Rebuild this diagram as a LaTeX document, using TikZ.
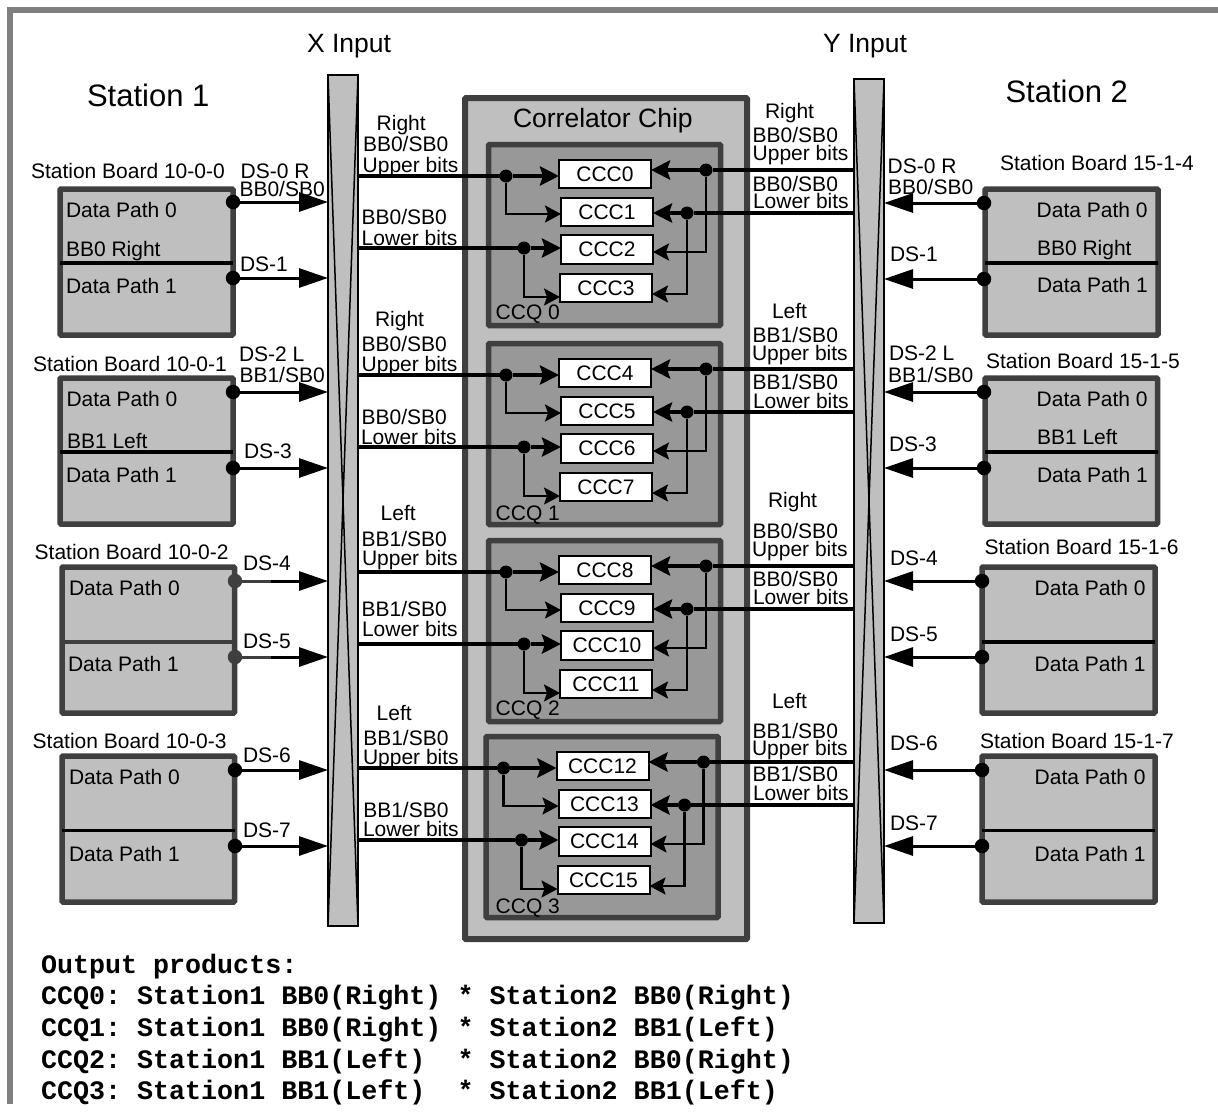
\documentclass[tikz,border=0pt]{standalone}
\usepackage{fontspec}
\usepackage{graphicx}
\setmainfont{Liberation Sans}
\setmonofont{Liberation Mono}
\frenchspacing
\usetikzlibrary{arrows.meta}
\definecolor{ink}{HTML}{3F3F3F}
\definecolor{pale}{HTML}{BFBFBF}
\definecolor{midg}{HTML}{989898}
\definecolor{framec}{HTML}{808080}
\newcount\lbc
\newcommand\lb[3]{\global\advance\lbc by 1\relax\node[lbl] (t\the\lbc) at (#1,#2) {#3};}
\newcommand\mono[2]{\global\advance\lbc by 1\relax\node[lbl,font=\ttfamily\bfseries\fontsize{26.7}{30}\selectfont] (t\the\lbc) at (41,#1) {#2};}
\newcommand\bx[6]{\node[#6,minimum width={(#4-#2)*1pt},minimum height={(#5-#3)*1pt}] (#1) at ({(#2+#4)/2},{(#3+#5)/2}) {};}
\newcommand\board[7]{\bx{#1}{#2}{#3}{#4}{#5}{boardbox}\coordinate (#1d) at (0,#6);\draw[divider,#7] (#1.west |- #1d) -- (#1.east |- #1d);}
\begin{document}
\begin{tikzpicture}[x=1pt,y=-1pt,
  lbl/.style={anchor=base west,inner sep=0pt,outer sep=0pt,font=\fontsize{21}{24}\selectfont,text=black},
  boardbox/.style={draw=ink,fill=pale,line width=5.5pt,rounded corners=1pt,inner sep=0pt,outer sep=0pt},
  chipbox/.style={draw=ink,fill=pale,line width=6pt,rounded corners=1pt,inner sep=0pt,outer sep=0pt},
  ccqbox/.style={draw=ink,fill=midg,line width=5.5pt,rounded corners=1pt,inner sep=0pt,outer sep=0pt},
  bar/.style={draw=black,fill=pale,line width=1.8pt,inner sep=0pt,outer sep=0pt},
  cccbox/.style={draw=black,fill=white,line width=2pt,inner sep=0pt,outer sep=0pt,font=\fontsize{21}{24}\selectfont},
  divider/.style={black,line width=3.2pt},
  bdot/.style={circle,fill=black,inner sep=0pt,outer sep=0pt,minimum size=14.5pt},
  cdot/.style={circle,fill=black,inner sep=0pt,outer sep=0pt,minimum size=13pt},
  bwire/.style={black,line width=3pt,-{Triangle[length=29pt,width=19pt]}},
  mwire/.style={black,line width=4pt,-{Stealth[length=19pt,width=19pt,inset=3pt]}},
  swire/.style={black,line width=2.4pt,-{Stealth[length=16pt,width=17pt,inset=3pt]}},
  hwire/.style={black,line width=4pt},
]
\useasboundingbox (0,0) rectangle (1218,1114);
% frame
\coordinate (fa) at (10,1104);
\coordinate (fb) at (10,10);
\coordinate (fc) at (1218,10);
\draw[framec,line width=6pt] (fa) -- (fb) -- (fc);
% chip and groups
\bx{chip}{465}{98}{747}{939}{chipbox}
\lb{513}{127}{\fontsize{26.5}{30}\selectfont Correlator Chip}
% input bars
\bx{xbar}{328}{75}{358}{926}{bar}
\bx{ybar}{854}{79}{884}{923}{bar}
\draw[black,line width=1.5pt] (xbar.north west) -- (xbar.south east);
\draw[black,line width=1.5pt] (xbar.north east) -- (xbar.south west);
\draw[black,line width=1.5pt] (ybar.north west) -- (ybar.south east);
\draw[black,line width=1.5pt] (ybar.north east) -- (ybar.south west);
% CCQ blocks
\foreach \q/\dx/\dy in {0/0/0,1/0/199,2/0/396,3/-2.5/592}{
  \pgfmathtruncatemacro\ca{4*\q}
  \pgfmathtruncatemacro\cb{4*\q+1}
  \pgfmathtruncatemacro\cc{4*\q+2}
  \pgfmathtruncatemacro\cd{4*\q+3}
  \pgfmathsetmacro\xl{488.5+\dx}\pgfmathsetmacro\xr{720.5+\dx}
  \pgfmathsetmacro\yt{144.5+\dy}\pgfmathsetmacro\yb{325.5+\dy}
  \bx{ccq\q}{\xl}{\yt}{\xr}{\yb}{ccqbox}
  \pgfmathsetmacro\xa{559+\dx}\pgfmathsetmacro\xb{651+\dx}
  \pgfmathsetmacro\xc{561+\dx}\pgfmathsetmacro\xd{653+\dx}
  \pgfmathsetmacro\xe{560+\dx}\pgfmathsetmacro\xf{652+\dx}
  \pgfmathsetmacro\ya{160+\dy}\pgfmathsetmacro\yab{188+\dy}
  \pgfmathsetmacro\ybb{198+\dy}\pgfmathsetmacro\ybc{226+\dy}
  \pgfmathsetmacro\yca{235+\dy}\pgfmathsetmacro\ycb{264+\dy}
  \pgfmathsetmacro\yda{274+\dy}\pgfmathsetmacro\ydb{302+\dy}
  \node[cccbox,minimum width=92pt,minimum height=28pt] (ccc\ca) at ({(\xa+\xb)/2},{(\ya+\yab)/2}) {CCC\ca};
  \node[cccbox,minimum width=92pt,minimum height=28pt] (ccc\cb) at ({(\xc+\xd)/2},{(\ybb+\ybc)/2}) {CCC\cb};
  \node[cccbox,minimum width=92pt,minimum height=29pt] (ccc\cc) at ({(\xc+\xd)/2},{(\yca+\ycb)/2}) {CCC\cc};
  \node[cccbox,minimum width=92pt,minimum height=28pt] (ccc\cd) at ({(\xe+\xf)/2},{(\yda+\ydb)/2}) {CCC\cd};
  % dots
  \node[cdot] (lu\q) at (506+\dx,176+\dy) {};
  \node[cdot] (ll\q) at (524+\dx,248+\dy) {};
  \node[cdot] (ru\q) at (706+\dx,170+\dy) {};
  \node[cdot] (rl\q) at (687+\dx,213+\dy) {};
  % branch levels
  \coordinate (by1\q) at (0,214+\dy);
  \coordinate (by3\q) at (0,297+\dy);
  \coordinate (by2\q) at (0,252+\dy);
  \coordinate (by4\q) at (0,294+\dy);
  % left wires
  \draw[hwire] (lu\q -| xbar.east) -- (lu\q);
  \draw[hwire] (ll\q -| xbar.east) -- (ll\q);
  \draw[mwire] (lu\q) -- (lu\q -| ccc\ca.west);
  \draw[mwire] (ll\q) -- (ll\q -| ccc\cc.west);
  \draw[swire] (lu\q) |- (ccc\cb.west |- by1\q);
  \draw[swire] (ll\q) |- (ccc\cd.west |- by3\q);
  % right wires
  \draw[hwire] (ru\q -| ybar.west) -- (ru\q);
  \draw[hwire] (rl\q -| ybar.west) -- (rl\q);
  \draw[mwire] (ru\q) -- (ru\q -| ccc\ca.east);
  \draw[mwire] (rl\q) -- (rl\q -| ccc\cb.east);
  \draw[swire] (ru\q) |- (ccc\cc.east |- by2\q);
  \draw[swire] (rl\q) |- (ccc\cd.east |- by4\q);
}
% boards left
\board{la}{60}{189}{233}{335}{263}{}
\board{lb}{60}{378}{233}{524}{452}{}
\board{lc}{62}{567}{234.5}{713}{642}{ink,line width=4.5pt}
\board{ld}{62}{756}{234.5}{902}{830.5}{}
% boards right
\board{ra}{985}{189}{1158}{335}{263}{}
\board{rb}{985}{378}{1157.5}{524}{452}{}
\board{rc}{982}{567}{1155}{713}{642}{}
\board{rd}{982}{756}{1155}{902}{830.5}{}
% board wires
\foreach \n/\x/\y in {a/233/202,b/233/278,c/233/392,d/233/468,g/235/770,h/235/846}{
  \node[bdot] (dl\n) at (\x,\y) {};
  \draw[bwire] (dl\n) -- (dl\n -| xbar.west);
}
\foreach \n/\x/\y in {e/235/581,f/235/657}{
  \node[bdot,fill=ink] (dl\n) at (\x,\y) {};
  \draw[bwire] (dl\n) -- (dl\n -| xbar.west);
  \coordinate (gl\n) at (271,\y);
  \draw[ink,line width=3pt] (dl\n) -- (gl\n);
}
\foreach \n/\x/\y in {a/984/203,b/984/279,c/984/392,d/984/468,e/982/581,f/982/657,g/982/770,h/982/846}{
  \node[bdot] (dr\n) at (\x,\y) {};
  \draw[bwire] (dr\n) -- (dr\n -| ybar.east);
}
% titles
\lb{307}{52}{\fontsize{26.5}{30}\selectfont X Input}
\lb{823}{52}{\fontsize{26.5}{30}\selectfont Y Input}
\lb{87}{106}{\fontsize{31}{34}\selectfont Station 1}
\lb{1005.5}{102}{\fontsize{31}{34}\selectfont Station 2}
% left board text
\lb{31}{178}{Station Board 10-0-0}
\lb{66}{217}{Data Path 0}\lb{66}{256}{BB0 Right}\lb{66}{293}{Data Path 1}
\lb{33}{371.5}{Station Board 10-0-1}
\lb{66.5}{406.7}{Data Path 0}\lb{67}{448}{BB1 Left}\lb{66}{482.6}{Data Path 1}
\lb{34.7}{559.6}{Station Board 10-0-2}
\lb{69}{595.5}{Data Path 0}\lb{68}{671.5}{Data Path 1}
\lb{32.7}{748.5}{Station Board 10-0-3}
\lb{69}{784.5}{Data Path 0}\lb{69}{861}{Data Path 1}
% left DS labels
\lb{240.7}{178}{DS-0 R}\lb{239.5}{196.7}{BB0/SB0}\lb{240}{271}{DS-1}
\lb{239}{361}{DS-2 L}\lb{239.5}{382}{BB1/SB0}\lb{244}{458.5}{DS-3}
\lb{243}{570.7}{DS-4}\lb{243}{648.5}{DS-5}\lb{243}{762}{DS-6}\lb{243}{837.4}{DS-7}
% right board text
\lb{1000}{170}{Station Board 15-1-4}
\lb{1036.7}{217}{Data Path 0}\lb{1037}{255}{BB0 Right}\lb{1037}{292.7}{Data Path 1}
\lb{986}{368}{Station Board 15-1-5}
\lb{1036.7}{406.7}{Data Path 0}\lb{1037}{444.5}{BB1 Left}\lb{1037}{482.6}{Data Path 1}
\lb{984.7}{554}{Station Board 15-1-6}
\lb{1034.7}{595.5}{Data Path 0}\lb{1034.7}{671.5}{Data Path 1}
\lb{980}{748.5}{Station Board 15-1-7}
\lb{1034.7}{784.5}{Data Path 0}\lb{1034.7}{861}{Data Path 1}
% right DS labels
\lb{887.7}{173}{DS-0 R}\lb{888}{194}{BB0/SB0}\lb{890}{261.7}{DS-1}
\lb{889}{360}{DS-2 L}\lb{888}{382}{BB1/SB0}\lb{889}{451}{DS-3}
\lb{890}{565}{DS-4}\lb{890}{641}{DS-5}\lb{890}{750}{DS-6}\lb{890}{830}{DS-7}
% middle left
\lb{376.7}{130}{Right}\lb{363}{151.7}{BB0/SB0}\lb{362.7}{172}{Upper bits}
\lb{361.7}{224.3}{BB0/SB0}\lb{361.7}{245}{Lower bits}
\lb{375}{326.7}{Right}\lb{361.7}{351.7}{BB0/SB0}\lb{361.7}{371}{Upper bits}
\lb{361.7}{424}{BB0/SB0}\lb{361}{444}{Lower bits}
\lb{380.7}{520}{Left}\lb{361.7}{546}{BB1/SB0}\lb{362}{565.7}{Upper bits}
\lb{361.7}{616}{BB1/SB0}\lb{362}{636}{Lower bits}
\lb{376.7}{720}{Left}\lb{363.3}{745.7}{BB1/SB0}\lb{363}{764.3}{Upper bits}
\lb{363.3}{817.7}{BB1/SB0}\lb{363}{836.7}{Lower bits}
% middle right
\lb{765}{118.3}{Right}\lb{752.7}{142.7}{BB0/SB0}\lb{752.7}{160}{Upper bits}
\lb{752.7}{191}{BB0/SB0}\lb{753}{208}{Lower bits}
\lb{772}{318.3}{Left}\lb{752.7}{342.7}{BB1/SB0}\lb{752}{360}{Upper bits}
\lb{752.7}{389.3}{BB1/SB0}\lb{753}{408.3}{Lower bits}
\lb{768}{507.3}{Right}\lb{752.7}{538.3}{BB0/SB0}\lb{752}{556.7}{Upper bits}
\lb{752.7}{586.7}{BB0/SB0}\lb{753}{604}{Lower bits}
\lb{772}{708.3}{Left}\lb{752.7}{738.3}{BB1/SB0}\lb{752}{755.7}{Upper bits}
\lb{752.7}{781.7}{BB1/SB0}\lb{753}{800}{Lower bits}
% CCQ labels
\lb{495.7}{319}{CCQ 0}\lb{495.7}{520.7}{CCQ 1}\lb{495.7}{715.7}{CCQ 2}\lb{495.7}{913}{CCQ 3}
% output products
\mono{973}{Output products:}
\mono{1004}{CCQ0: Station1 BB0(Right) * Station2 BB0(Right)}
\mono{1036}{CCQ1: Station1 BB0(Right) * Station2 BB1(Left)}
\mono{1068}{CCQ2: Station1 BB1(Left)\ \ * Station2 BB0(Right)}
\mono{1099}{CCQ3: Station1 BB1(Left)\ \ * Station2 BB1(Left)}
\end{tikzpicture}
\end{document}
